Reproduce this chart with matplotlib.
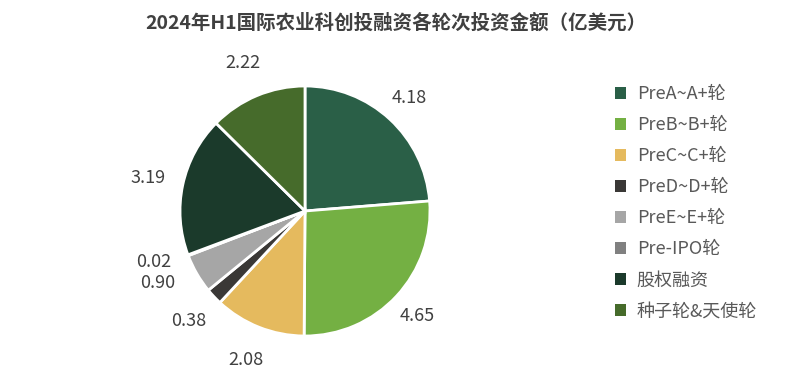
import numpy as np
import matplotlib
matplotlib.use('Agg')
from matplotlib import pyplot as plt
from matplotlib.patches import Patch

plt.rcParams['font.family'] = ['Noto Sans CJK SC', 'DejaVu Sans']

# data
rounds = ['PreA~A+轮', 'PreB~B+轮', 'PreC~C+轮', 'PreD~D+轮',
          'PreE~E+轮', 'Pre-IPO轮', '股权融资', '种子轮&天使轮']
amounts = [4.18, 4.65, 2.08, 0.38, 0.90, 0.02, 3.19, 2.22]
colors = ['#2A5F47', '#74B043', '#E5BA5E', '#3A3836',
          '#A6A6A6', '#808080', '#1B3A2B', '#466B2B']

fig = plt.figure(figsize=(7.91, 3.78), dpi=100)

# pie axes: centre at (305, 211) px, radius 125 px
ax = fig.add_axes([155/791, 17/378, 300/791, 300/378])
wedges, _ = ax.pie(amounts, colors=colors, startangle=90, counterclock=False,
                   radius=1.0, wedgeprops=dict(edgecolor='white', linewidth=2))
ax.set_xlim(-1.2, 1.2)
ax.set_ylim(-1.2, 1.2)
ax.set_aspect('equal')

# value labels outside each wedge
nudge = {4: -4, 5: -2}   # small slices pushed apart (degrees)
for i, w in enumerate(wedges):
    ang = (w.theta1 + w.theta2) / 2 + nudge.get(i, 0)
    r = 1.23 if np.cos(np.radians(ang)) > 0 else 1.28
    if i == 4:
        r = 1.31
    x = r * np.cos(np.radians(ang))
    y = r * np.sin(np.radians(ang))
    ax.text(x, y, '%.2f' % amounts[i], ha='center', va='center',
            fontsize=13, color='#404040')

fig.text(0.5, 0.94, '2024年H1国际农业科创投融资各轮次投资金额（亿美元）',
         ha='center', va='center', fontsize=14, fontweight='bold', color='#404040')

handles = [Patch(facecolor=c, edgecolor='none') for c in colors]
fig.legend(handles, rounds, loc='center left', bbox_to_anchor=(0.757, 0.463),
           frameon=False, fontsize=13, labelcolor='#595959',
           handlelength=0.6, handleheight=0.6, handletextpad=0.6,
           labelspacing=0.72)

fig.savefig('out.png', dpi=100)
